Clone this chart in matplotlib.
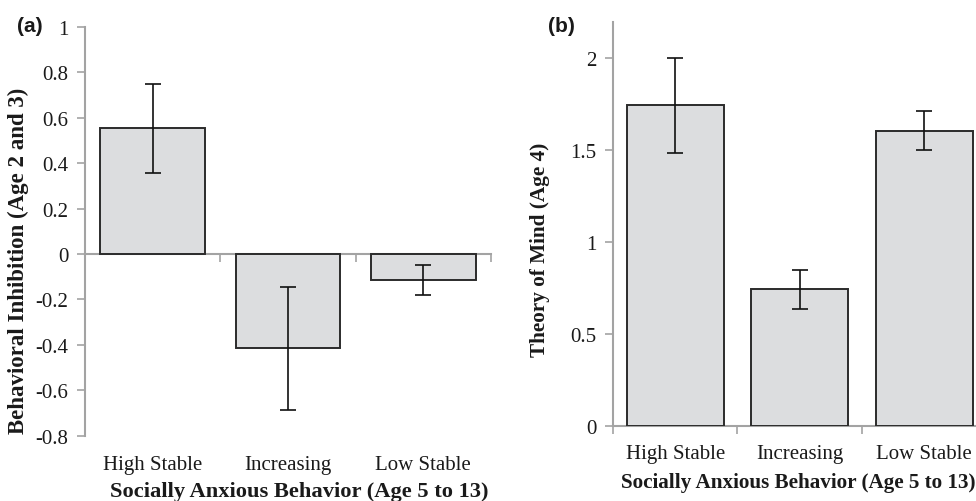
import matplotlib
matplotlib.use("Agg")
import matplotlib.pyplot as plt
import numpy as np

categories = ["High Stable", "Increasing", "Low Stable"]
bi_means = [0.553, -0.415, -0.115]
bi_err = [0.195, 0.272, 0.065]
tom_means = [1.745, 0.743, 1.607]
tom_err = [0.26, 0.105, 0.104]

a_yticks = [-0.8, -0.6, -0.4, -0.2, 0, 0.2, 0.4, 0.6, 0.8, 1]
a_yticklabels = ["-0.8", "-0.6", "-0.4", "-0.2", "0", "0.2", "0.4", "0.6", "0.8", "1"]
b_yticks = [0, 0.5, 1, 1.5, 2]
b_yticklabels = ["0", "0.5", "1", "1.5", "2"]

xlabel = "Socially Anxious Behavior (Age 5 to 13)"
a_ylabel = "Behavioral Inhibition (Age 2 and 3)"
b_ylabel = "Theory of Mind (Age 4)"

serif = "Liberation Serif"
FS = 15
bar_color = "#dcdddf"
edge_color = "#2b2b2b"
axis_gray = "#a3a3a3"
text_color = "#1a1a1a"

fig = plt.figure(figsize=(9.76, 5.02), dpi=100)
axA = fig.add_axes([0.0871, 0.1295, 0.416, 0.8157])
axB = fig.add_axes([0.628, 0.150, 0.3828, 0.8048])

x = np.arange(len(categories))
bounds = np.arange(len(categories) + 1) - 0.5


def style(ax, xpad):
    for s in ["top", "right", "bottom"]:
        ax.spines[s].set_visible(False)
    ax.spines["left"].set_color(axis_gray)
    ax.spines["left"].set_linewidth(1.5)
    ax.tick_params(axis="y", direction="out", length=6, width=1.2, color=axis_gray,
                   labelsize=FS, labelcolor=text_color, pad=6)
    ax.tick_params(axis="x", length=0, labelsize=FS, labelcolor=text_color, pad=xpad)
    for lab in ax.get_xticklabels() + ax.get_yticklabels():
        lab.set_fontfamily(serif)


# Panel (a)
axA.bar(x, bi_means, width=0.775, color=bar_color, edgecolor=edge_color, linewidth=1.4, zorder=2)
axA.errorbar(x, bi_means, yerr=bi_err, fmt="none", ecolor="#111111", elinewidth=1.2,
             capsize=5.5, capthick=1.2, zorder=3)
axA.set_xlim(-0.5, 2.5)
axA.set_ylim(-0.8, 1.0)
axA.set_yticks(a_yticks)
axA.set_yticklabels(a_yticklabels)
axA.set_xticks(x)
axA.set_xticklabels(categories)
style(axA, 13.5)
secA = axA.secondary_xaxis(0.8 / 1.8)
secA.set_xticks(bounds)
secA.set_xticklabels([])
secA.tick_params(axis="x", direction="out", length=6, width=1.2, color=axis_gray)
secA.spines["bottom"].set_color(axis_gray)
secA.spines["bottom"].set_linewidth(1.5)
axA.set_xlabel(xlabel, fontfamily=serif, fontweight="bold", fontsize=16.2, color=text_color, labelpad=5.5)
axA.xaxis.label.set_x(0.527)
axA.set_ylabel(a_ylabel, fontfamily=serif, fontweight="bold", fontsize=16.5, color=text_color)
axA.yaxis.set_label_coords(-0.138, 0.431)

# Panel (b)
axB.bar(x, tom_means, width=0.78, color=bar_color, edgecolor=edge_color, linewidth=1.4, zorder=2)
axB.errorbar(x, tom_means, yerr=tom_err, fmt="none", ecolor="#111111", elinewidth=1.2,
             capsize=5.5, capthick=1.2, zorder=3)
axB.set_xlim(-0.5, 2.5)
axB.set_ylim(0, 2.2)
axB.set_yticks(b_yticks)
axB.set_yticklabels(b_yticklabels)
axB.set_xticks(x)
axB.set_xticklabels(categories)
style(axB, 13)
secB = axB.secondary_xaxis(0.0)
secB.set_xticks(bounds)
secB.set_xticklabels([])
secB.tick_params(axis="x", direction="out", length=6, width=1.2, color=axis_gray)
secB.spines["bottom"].set_color(axis_gray)
secB.spines["bottom"].set_linewidth(1.5)
axB.set_xlabel(xlabel, fontfamily=serif, fontweight="bold", fontsize=15.2, color=text_color, labelpad=6.5)
axB.xaxis.label.set_x(0.496)
axB.set_ylabel(b_ylabel, fontfamily=serif, fontweight="bold", fontsize=15.3, color=text_color)
axB.yaxis.set_label_coords(-0.168, 0.437)

fig.text(0.017, 0.947, "(a)", fontfamily="Liberation Sans", fontweight="bold", fontsize=15,
         color=text_color, ha="left", va="center")
fig.text(0.561, 0.947, "(b)", fontfamily="Liberation Sans", fontweight="bold", fontsize=15,
         color=text_color, ha="left", va="center")

fig.savefig("out.png", dpi=100)
